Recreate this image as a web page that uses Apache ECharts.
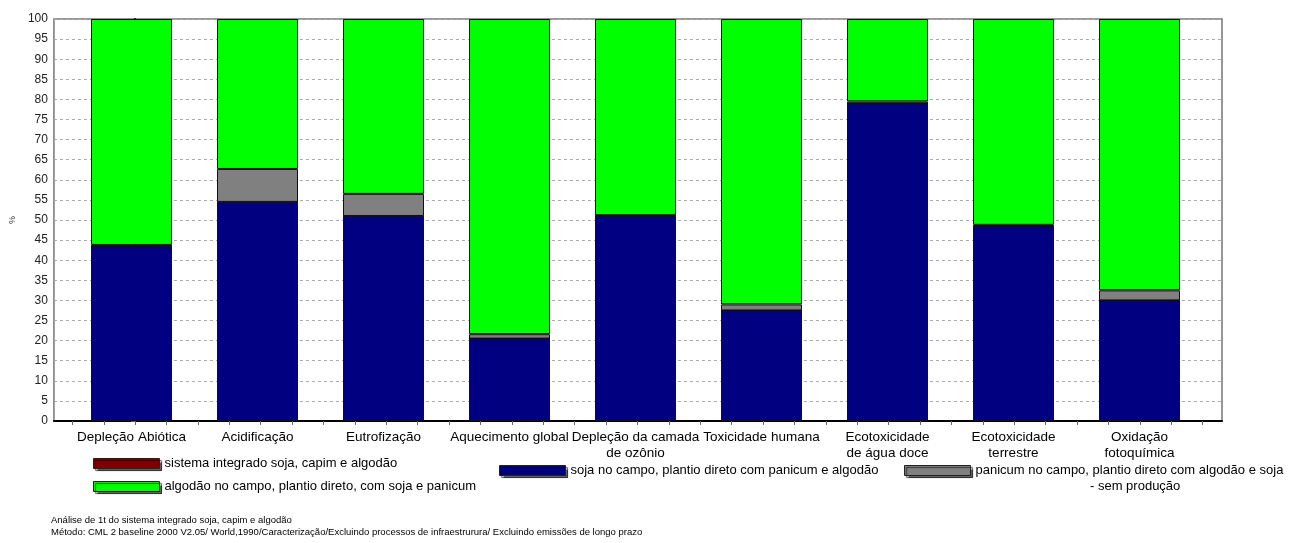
<!DOCTYPE html>
<html>
<head>
<meta charset="utf-8">
<script src="https://cdn.jsdelivr.net/npm/echarts@6/dist/echarts.min.js"></script>
<style>html,body{margin:0;padding:0;background:#fff;}#c{width:1290px;height:543px;}</style>
</head>
<body>
<div id="c"></div>
<script>
var categories = ['Depleção Abiótica', 'Acidificação', 'Eutrofização', 'Aquecimento global',
  'Depleção da camada\nde ozônio', 'Toxicidade humana', 'Ecotoxicidade\nde água doce',
  'Ecotoxicidade\nterrestre', 'Oxidação\nfotoquímica'];
var seriesNames = ['soja no campo, plantio direto com panicum e algodão',
  'sistema integrado soja, capim e algodão',
  'panicum no campo, plantio direto com algodão e soja - sem produção',
  'algodão no campo, plantio direto, com soja e panicum'];
var sojaValues    = [43.5, 54.5, 51.0, 20.5, 51.0, 27.5, 79.0, 48.5, 30.0];
var sistemaValues = [0, 0, 0, 0, 0, 0, 0, 0, 0];
var panicumValues = [0.3, 8.2, 5.5, 1.1, 0.2, 1.5, 0.5, 0.3, 2.5];
var algodaoValues = [56.2, 37.3, 43.5, 78.4, 48.8, 71.0, 20.5, 51.2, 67.5];
var yTicks = {min: 0, max: 100, interval: 5};

var colors = ['#000080', '#800000', '#808080', '#00ff00'];
var FONT = '"Liberation Sans", Arial, sans-serif';

var tickVals = [];
for (var k = 0; k <= categories.length * 4; k++) tickVals.push(-0.5 + k * 0.25);

var seriesData = [sojaValues, sistemaValues, panicumValues, algodaoValues];
var series = seriesData.map(function (d, i) {
  return {
    name: seriesNames[i], type: 'bar', stack: 'total', xAxisIndex: 1, yAxisIndex: 1,
    barWidth: 81, data: d,
    itemStyle: {color: colors[i], borderColor: '#111', borderWidth: 1},
    emphasis: {disabled: true}, animation: false
  };
});

var legendBase = {
  itemWidth: 66, itemHeight: 10, itemGap: 5, icon: 'rect', padding: 0,
  textStyle: {fontFamily: FONT, fontSize: 13, color: '#000'},
  itemStyle: {borderColor: '#222', borderWidth: 1, shadowColor: 'rgba(0,0,0,0.6)', shadowOffsetX: 2, shadowOffsetY: 2, shadowBlur: 1},
  selectedMode: false, orient: 'horizontal'
};
function leg(name, left, top, fmt) {
  var o = Object.assign({}, legendBase, {data: [name], left: left, top: top});
  if (fmt) o.formatter = fmt;
  return o;
}

var chart = echarts.init(document.getElementById('c'), null, {renderer: 'canvas'});
chart.setOption({
  backgroundColor: '#fff',
  animation: false,
  grid: [
    {left: 50, right: 68, top: 19, bottom: 122, show: true, borderColor: '#777', borderWidth: 1.5, backgroundColor: 'transparent'},
    {left: 68.5, right: 87.5, top: 19, bottom: 122}
  ],
  xAxis: [
    {type: 'value', gridIndex: 0, min: -0.5 - 18.5 / 126, max: categories.length - 0.5 + 19.5 / 126,
      axisLine: {show: true, onZero: false, lineStyle: {color: '#000', width: 2}},
      axisTick: {show: true, inside: false, customValues: tickVals, length: 4, lineStyle: {color: '#666', width: 1}},
      axisLabel: {show: false}, splitLine: {show: false}},
    {type: 'category', gridIndex: 1, data: categories,
      axisLine: {show: false}, axisTick: {show: false},
      axisLabel: {interval: 0, margin: 8, fontFamily: FONT, fontSize: 13.5, color: '#000', lineHeight: 16}}
  ],
  yAxis: [
    {type: 'value', gridIndex: 0, min: yTicks.min, max: yTicks.max, interval: yTicks.interval,
      name: '%', nameLocation: 'middle', nameRotate: 90, nameGap: 33,
      nameTextStyle: {fontFamily: FONT, fontSize: 9, color: '#333'},
      axisLine: {show: true, lineStyle: {color: '#000', width: 2}},
      axisTick: {show: true, length: 4, lineStyle: {color: '#555'}},
      axisLabel: {margin: 6, fontFamily: FONT, fontSize: 12, color: '#222'},
      splitLine: {show: true, lineStyle: {color: '#aaa', type: [3, 3], width: 1}}},
    {type: 'value', gridIndex: 1, min: yTicks.min, max: yTicks.max, show: false, splitLine: {show: false}}
  ],
  legend: [
    leg(seriesNames[1], 93, 457),
    leg(seriesNames[3], 93, 480),
    leg(seriesNames[0], 499, 464),
    leg(seriesNames[2], 904, 464, function () { return 'panicum no campo, plantio direto com algodão e soja'; })
  ],
  series: series,
  graphic: [
    {type: 'text', left: 1090, top: 480, style: {text: '- sem produção', font: '13px ' + FONT, fill: '#000'}},
    {type: 'text', left: 51, top: 515, style: {text: 'Análise de 1t do sistema integrado soja, capim e algodão', font: '9.5px ' + FONT, fill: '#000'}},
    {type: 'text', left: 51, top: 527, style: {text: 'Método: CML 2 baseline 2000 V2.05/ World,1990/Caracterização/Excluindo processos de infraestrurura/ Excluindo emissões de longo prazo', font: '9.5px ' + FONT, fill: '#000'}}
  ]
});
</script>
</body>
</html>
